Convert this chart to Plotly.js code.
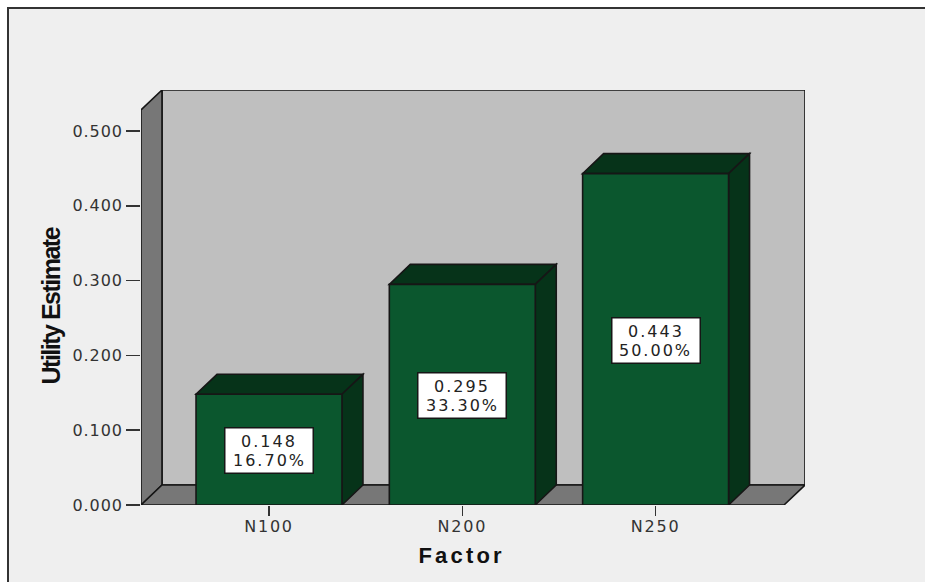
<!DOCTYPE html>
<html>
<head>
<meta charset="utf-8">
<script src="https://cdn.plot.ly/plotly-3.0.1.min.js"></script>
<style>
  html, body { margin: 0; padding: 0; background: #fff; overflow: hidden; }
  #chart {
    position: absolute; left: 7px; top: 7px; width: 916px; height: 573px;
    border-top: 2px solid #333; border-left: 2px solid #333;
  }
  #chart .ytick text { letter-spacing: 0.9px; }
  #chart .xtick text { letter-spacing: 1.8px; }
  #chart .annotation text { letter-spacing: 2px; }
  #chart .annotation[data-index="6"] text { letter-spacing: -1.5px; }
  #chart .annotation[data-index="7"] text { letter-spacing: 3.2px; }
</style>
</head>
<body>
<div id="chart"></div>
<script>
// Part-worth utilities per factor level
const categories = ['N100', 'N200', 'N250'];
const utilities = [0.148, 0.295, 0.443];
const importance = ['16.70%', '33.30%', '50.00%'];
const valueTicks = [0, 0.1, 0.2, 0.3, 0.4, 0.5];

// Axis extents and the oblique offset of the box look, in axis units
const xRange = [-0.6622, 2.773];
const yRange = [0, 0.5548];
const depthX = 0.1086;
const depthY = 0.0267;
const barWidth = 0.755;

const positions = categories.map((_, i) => i);
const edge = '#161616';

function poly(points, fill) {
  const d = points.map((p, i) => (i ? 'L' : 'M') + p[0] + ',' + p[1]).join(' ') + ' Z';
  return { type: 'path', xref: 'x', yref: 'y', path: d, fillcolor: fill,
           line: { color: edge, width: 1.6 }, layer: 'below' };
}

// Back wall, left wall and floor of the box
const xL = xRange[0], xR = xRange[1], yT = yRange[1];
const shapes = [
  poly([[xL + depthX, depthY], [xR, depthY], [xR, yT], [xL + depthX, yT]], '#bfbfbf'),
  poly([[xL, 0], [xL + depthX, depthY], [xL + depthX, yT], [xL, yT - depthY]], '#777777'),
  poly([[xL, 0], [xR - depthX, 0], [xR, depthY], [xL + depthX, depthY]], '#777777')
];

// Top and side faces of each bar
positions.forEach((x, i) => {
  const l = x - barWidth / 2, r = x + barWidth / 2, v = utilities[i];
  shapes.push(poly([[l, v], [r, v], [r + depthX, v + depthY], [l + depthX, v + depthY]], '#063319'));
  shapes.push(poly([[r, 0], [r + depthX, depthY], [r + depthX, v + depthY], [r, v]], '#063319'));
});

const labelFont = { family: 'DejaVu Sans', size: 16, color: '#222' };
const annotations = [];
positions.forEach((x, i) => {
  annotations.push({
    x: x, y: utilities[i] / 2, xref: 'x', yref: 'y', showarrow: false,
    text: String(utilities[i].toFixed(3)), font: labelFont,
    width: 81, height: 38, valign: 'top', align: 'center', borderpad: 3,
    bgcolor: '#ffffff', bordercolor: edge, borderwidth: 1.5, yshift: -1
  });
  annotations.push({
    x: x, y: utilities[i] / 2, xref: 'x', yref: 'y', showarrow: false,
    text: importance[i], font: labelFont, yshift: -11
  });
});

annotations.push({
  xref: 'paper', yref: 'paper', x: 0, y: 0.5, xanchor: 'center', yanchor: 'middle',
  xshift: -91, yshift: -9, textangle: -90, showarrow: false, text: 'Utility Estimate',
  font: { family: 'Liberation Sans', size: 25, weight: 700, color: '#111' }
});
annotations.push({
  xref: 'x', yref: 'paper', x: 1, y: 0, xanchor: 'center', yanchor: 'middle',
  yshift: -50, showarrow: false, text: 'Factor',
  font: { family: 'Liberation Sans', size: 22, weight: 700, color: '#111' }
});

const bars = {
  type: 'bar', x: positions, y: utilities, width: barWidth,
  marker: { color: '#0b572e', line: { color: edge, width: 1.6 } },
  hoverinfo: 'x+y', showlegend: false
};

const tickFont = { family: 'DejaVu Sans', size: 16, color: '#333' };
const layout = {
  width: 916, height: 573,
  margin: { l: 132, r: 120, t: 81, b: 77, pad: 0 },
  paper_bgcolor: '#efefef', plot_bgcolor: 'rgba(0,0,0,0)',
  showlegend: false,
  xaxis: {
    range: xRange, tickmode: 'array', tickvals: positions, ticktext: categories,
    ticks: 'outside', ticklen: 10, tickwidth: 1.5, tickcolor: '#333', ticklabelstandoff: -3,
    showgrid: false, zeroline: false, showline: false, tickfont: tickFont, fixedrange: true
  },
  yaxis: {
    range: yRange, tickmode: 'array', tickvals: valueTicks, tickformat: '.3f',
    ticks: 'outside', ticklen: 14, tickwidth: 1.5, tickcolor: '#333',
    showgrid: false, zeroline: false, showline: false, tickfont: tickFont, fixedrange: true
  },
  shapes: shapes,
  annotations: annotations
};

Plotly.newPlot('chart', [bars], layout, { displayModeBar: false, staticPlot: true });
</script>
</body>
</html>
